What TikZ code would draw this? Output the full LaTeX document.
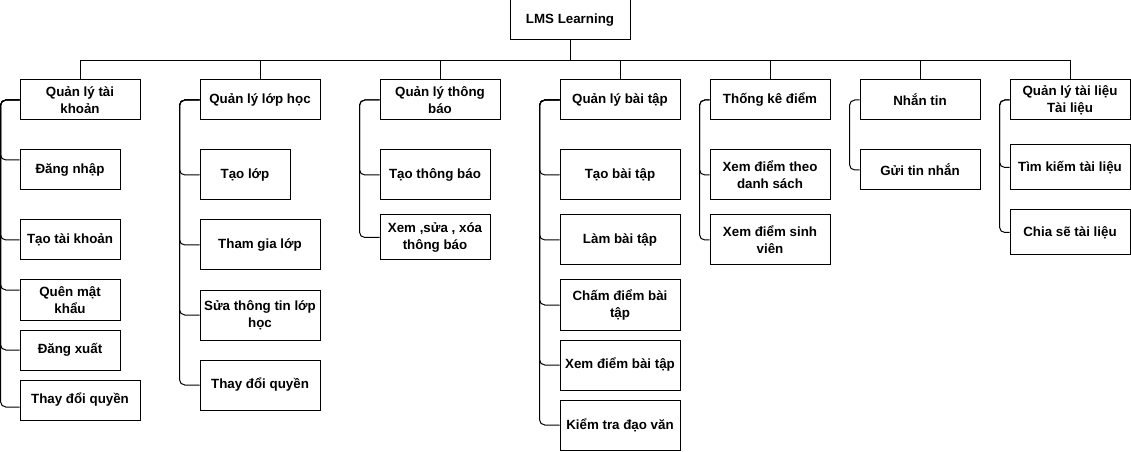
\documentclass[tikz,border=0pt]{standalone}
\usepackage{fontspec}
\setmainfont{Liberation Sans}
\begin{document}
\begin{tikzpicture}[x=0.75pt, y=-0.75pt,
  box/.style = {draw, line width=0.75pt, align=center, inner sep=1pt,
    minimum width=90pt, minimum height=30pt,
    font=\bfseries\fontsize{10}{12.5}\selectfont},
  sm/.style = {minimum width=75pt},
  tall/.style = {minimum height=37.5pt},
  link/.style = {line width=0.75pt},
  branch/.style = {line width=0.75pt, rounded corners=4pt}]
\useasboundingbox (0,0) rectangle (1131,452);

\node[box] (root) at (570,20) {LMS Learning};

% Quan ly tai khoan
\node[box] (qltk) at (80,100) {Quản lý tài\\khoản};
\node[box,sm] (dn) at (70,170) {Đăng nhập};
\node[box,sm] (ttk) at (70,240) {Tạo tài khoản};
\node[box,sm] (qmk) at (70,300) {Quên mật\\khẩu};
\node[box,sm] (dx) at (70,350) {Đăng xuất};
\node[box] (tdq1) at (80,400) {Thay đổi quyền};

% Quan ly lop hoc
\node[box] (qllh) at (260,100) {Quản lý lớp học};
\node[box,tall,minimum width=67.5pt] (tl) at (245,175) {Tạo lớp};
\node[box,tall] (tgl) at (260,245) {Tham gia lớp};
\node[box,tall] (sttl) at (260,315) {Sửa thông tin lớp\\học};
\node[box,tall] (tdq2) at (260,385) {Thay đổi quyền};

% Quan ly thong bao
\node[box] (qltb) at (440,100) {Quản lý thông\\báo};
\node[box,tall,minimum width=82.5pt] (ttb) at (435,175) {Tạo thông báo};
\node[box,minimum width=82.5pt,minimum height=33.75pt] (xsx) at (435,237.5) {Xem ,sửa , xóa\\thông báo};

% Quan ly bai tap
\node[box] (qlbt) at (620,100) {Quản lý bài tập};
\node[box,tall] (tbt) at (620,175) {Tạo bài tập};
\node[box,tall] (lbt) at (620,240) {Làm bài tập};
\node[box,tall] (cdbt) at (620,305) {Chấm điểm bài\\tập};
\node[box,tall] (xdbt) at (620,365) {Xem điểm bài tập};
\node[box,tall] (ktdv) at (620,425) {Kiểm tra đạo văn};

% Thong ke diem
\node[box] (tkd) at (770,100) {Thống kê điểm};
\node[box,tall] (xdds) at (770,175) {Xem điểm theo\\danh sách};
\node[box,tall] (xdsv) at (770,240) {Xem điểm sinh\\viên};

% Nhan tin
\node[box] (nt) at (920,100) {Nhắn tin};
\node[box] (gtn) at (920,170) {Gửi tin nhắn};

% Quan ly tai lieu
\node[box] (qltl) at (1070,100) {Quản lý tài liệu\\Tài liệu};
\node[box,minimum height=33.75pt] (tktl) at (1070,167.5) {Tìm kiếm tài liệu};
\node[box,minimum height=33.75pt] (cstl) at (1070,232.5) {Chia sẽ tài liệu};

% root to groups
\foreach \g in {qltk,qllh,qltb,qlbt,tkd,nt,qltl}
  \draw[link] (root.south) -- ++(0,20) -| (\g.north);

% groups to items
\draw[branch] (qltk.west) -- ++(-19,0) |- ([yshift=7.5pt]dn.west);
\draw[branch] (qltk.west) -- ++(-19,0) |- (ttk.west);
\draw[branch] (qltk.west) -- ++(-19,0) |- ([yshift=7.5pt]qmk.west);
\draw[branch] (qltk.west) -- ++(-19,0) |- (dx.west);
\draw[branch] (qltk.west) -- ++(-19,0) |- ([yshift=-5.25pt]tdq1.west);
\foreach \c in {tl,tgl,sttl,tdq2}
  \draw[branch] (qllh.west) -- ++(-20,0) |- (\c.west);
\foreach \c in {ttb,xsx}
  \draw[branch] (qltb.west) -- ++(-20,0) |- (\c.west);
\foreach \c in {tbt,lbt,cdbt,xdbt,ktdv}
  \draw[branch] (qlbt.west) -- ++(-20,0) |- (\c.west);
\foreach \c in {xdds,xdsv}
  \draw[branch] (tkd.west) -- ++(-10,0) |- (\c.west);
\draw[branch] (nt.west) -- ++(-10,0) |- (gtn.west);
\foreach \c in {tktl,cstl}
  \draw[branch] (qltl.west) -- ++(-10,0) |- (\c.west);
\end{tikzpicture}
\end{document}
